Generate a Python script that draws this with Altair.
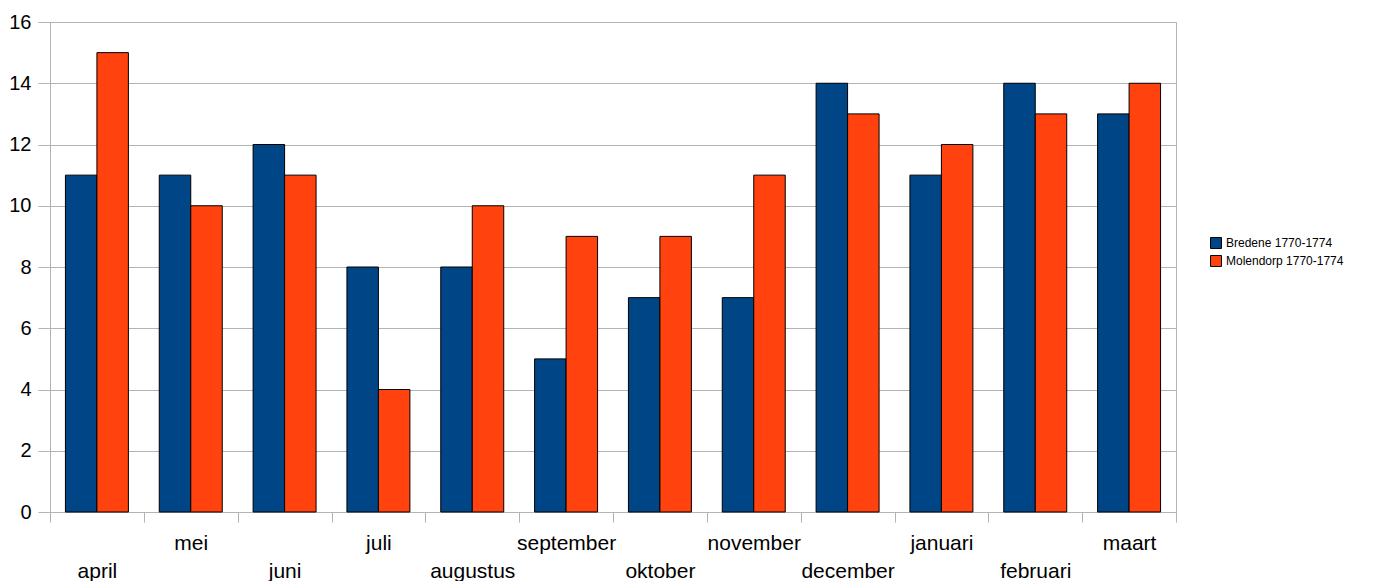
import altair as alt
import pandas as pd

months = ["april", "mei", "juni", "juli", "augustus", "september",
          "oktober", "november", "december", "januari", "februari", "maart"]
bredene = [11, 11, 12, 8, 8, 5, 7, 7, 14, 11, 14, 13]
molendorp = [15, 10, 11, 4, 10, 9, 9, 11, 13, 12, 13, 14]
series = ["Bredene 1770-1774", "Molendorp 1770-1774"]
colors = ["#004586", "#ff420e"]

rows = []
for m, b, o in zip(months, bredene, molendorp):
    rows.append({"maand": m, "reeks": series[0], "waarde": b})
    rows.append({"maand": m, "reeks": series[1], "waarde": o})
df = pd.DataFrame(rows)

upper = [m for i, m in enumerate(months) if i % 2 == 1]
label_expr = "indexof(" + str(upper) + ", datum.value) >= 0 ? datum.value : ['', datum.value]"

FONT = "Liberation Sans"

chart = alt.Chart(df).mark_bar(stroke="black", strokeWidth=1).encode(
    x=alt.X("maand:N", sort=months, title=None,
            scale=alt.Scale(paddingInner=0, paddingOuter=0),
            axis=alt.Axis(labelAngle=0, labelExpr=label_expr, labelFontSize=21,
                          labelLineHeight=28, labelPadding=10, tickBand="extent",
                          tickSize=10, tickColor="#b3b3b3", domainColor="#b3b3b3",
                          labelColor="black", labelBaseline="top", labelFont=FONT)),
    xOffset=alt.XOffset("reeks:N", sort=series,
                        scale=alt.Scale(paddingOuter=0.49, paddingInner=0)),
    y=alt.Y("waarde:Q", title=None,
            scale=alt.Scale(domain=[0, 16], nice=False),
            axis=alt.Axis(values=list(range(0, 17, 2)), labelFontSize=20,
                          tickSize=12, labelPadding=7, gridColor="#b3b3b3",
                          tickColor="#b3b3b3", domainColor="#b3b3b3",
                          labelColor="black", labelFont=FONT)),
    color=alt.Color("reeks:N", sort=series,
                    scale=alt.Scale(domain=series, range=colors),
                    legend=alt.Legend(title=None, symbolType="square",
                                      symbolStrokeColor="black", symbolStrokeWidth=1,
                                      symbolSize=120, labelFontSize=12,
                                      labelFont=FONT, labelColor="black",
                                      orient="none", legendX=1160, legendY=215,
                                      rowPadding=2)),
).properties(
    width=1126, height=490,
    padding={"left": 0, "top": 4, "right": 5, "bottom": 0},
).configure_view(stroke="#b3b3b3", strokeWidth=1)

chart.save("out.html", embed_options={"renderer": "svg", "actions": False})
